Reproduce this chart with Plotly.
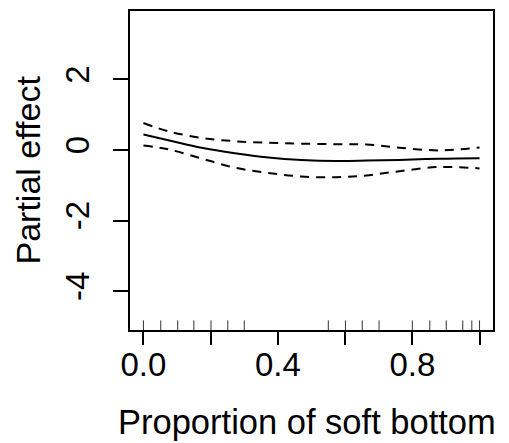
import plotly.graph_objects as go

# Data
x_vals = [0.0, 0.074, 0.173, 0.272, 0.372, 0.47, 0.574, 0.663, 0.762, 0.881, 1.0]
fit = [0.44, 0.28, 0.065, -0.09, -0.21, -0.28, -0.31, -0.30, -0.28, -0.245, -0.23]
upper = [0.765, 0.53, 0.345, 0.25, 0.205, 0.18, 0.165, 0.16, 0.065, -0.01, 0.07]
lower = [0.13, 0.02, -0.24, -0.50, -0.65, -0.75, -0.77, -0.72, -0.60, -0.48, -0.52]
rug = [0.0, 0.0515, 0.102, 0.150, 0.201, 0.251, 0.300, 0.550, 0.601, 0.651,
       0.701, 0.80, 0.852, 0.901, 0.950, 0.977, 1.0]
x_ticks = [0.0, 0.2, 0.4, 0.6, 0.8, 1.0]
x_ticklabels = ["0.0", "", "0.4", "", "0.8", ""]
y_ticks = [-4, -2, 0, 2]
y_ticklabels = ["-4", "-2", "0", "2"]

FONT = "Liberation Sans, Arial, sans-serif"
XRANGE = [-0.04, 1.04]

fig = go.Figure()
fig.add_trace(go.Scatter(x=x_vals, y=fit, mode="lines", line_shape="spline",
                         xaxis="x2",
                         line=dict(color="black", width=2), showlegend=False))
for band in (upper, lower):
    fig.add_trace(go.Scatter(x=x_vals, y=band, mode="lines", line_shape="spline",
                             line=dict(color="black", width=2, dash="9px,7px"),
                             showlegend=False))

# rug
for r in rug:
    fig.add_shape(type="line", xref="x", yref="paper", x0=r, x1=r, y0=0, y1=0.03,
                  line=dict(color="#333333", width=1))

fig.update_layout(
    width=509, height=443,
    margin=dict(l=130, r=16, t=9, b=113),
    paper_bgcolor="white", plot_bgcolor="white",
    font=dict(family=FONT, size=34, color="black"),
    xaxis=dict(range=XRANGE, tickvals=x_ticks, showticklabels=False,
               ticks="outside", ticklen=13, tickwidth=2, tickcolor="black",
               showline=True, linewidth=2, linecolor="black", mirror=True,
               showgrid=False, zeroline=False),
    xaxis2=dict(range=XRANGE, overlaying="x", side="bottom", anchor="y",
                tickvals=x_ticks, ticktext=x_ticklabels, ticks="",
                ticklabelstandoff=12,
                showline=False, showgrid=False, zeroline=False,
                tickfont=dict(size=33)),
    yaxis=dict(range=[-5.1, 3.94], tickvals=y_ticks, ticktext=y_ticklabels,
               ticks="outside", ticklen=15, tickwidth=2, tickcolor="black",
               tickangle=-90, ticklabelstandoff=11,
               showline=True, linewidth=2, linecolor="black", mirror=True,
               showgrid=False, zeroline=False, tickfont=dict(size=33)),
    annotations=[
        dict(text="Proportion of soft bottom", xref="paper", yref="paper",
             x=0.5, y=0, xanchor="center", yanchor="middle", yshift=-92,
             xshift=-5, showarrow=False, font=dict(size=34.5)),
        dict(text="Partial effect", xref="paper", yref="paper",
             x=0, y=0.5, xanchor="center", yanchor="middle", xshift=-103,
             textangle=-90, showarrow=False, font=dict(size=34)),
    ],
)

fig.write_html("out.html")
